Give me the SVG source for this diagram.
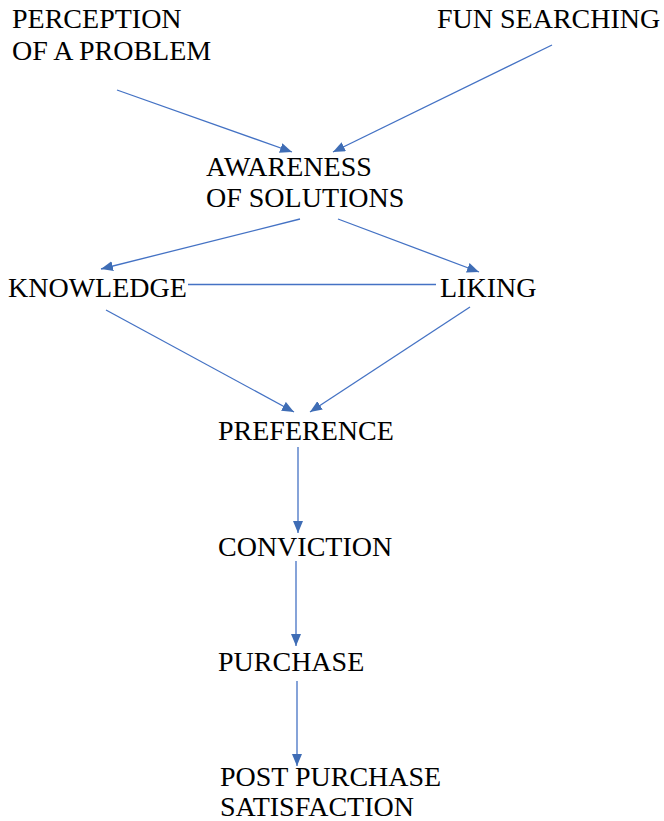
<svg xmlns="http://www.w3.org/2000/svg" width="664" height="821" viewBox="0 0 664 821">
<defs>
<marker id="ah" viewBox="0 0 12 10" refX="12" refY="5" markerWidth="12" markerHeight="10" markerUnits="userSpaceOnUse" orient="auto">
<path d="M0,0 L12,5 L0,10 Z" fill="#3F6DB5"/>
</marker>
</defs>
<rect width="664" height="821" fill="#fff"/>
<g id="connectors" stroke="#4472C4" stroke-width="1.3" fill="none">
<line marker-end="url(#ah)" x1="117" y1="90" x2="292" y2="152"/>
<line marker-end="url(#ah)" x1="552" y1="45" x2="333" y2="152"/>
<line marker-end="url(#ah)" x1="300" y1="219" x2="101" y2="269"/>
<line marker-end="url(#ah)" x1="338" y1="219" x2="479" y2="272"/>
<line x1="188" y1="284.5" x2="436" y2="284.5"/>
<line marker-end="url(#ah)" x1="106" y1="310" x2="294" y2="412"/>
<line marker-end="url(#ah)" x1="470" y1="307" x2="310" y2="412"/>
<line marker-end="url(#ah)" x1="298" y1="447" x2="298" y2="533"/>
<line marker-end="url(#ah)" x1="296" y1="561" x2="296" y2="646"/>
<line marker-end="url(#ah)" x1="297" y1="681" x2="297" y2="766"/>
</g>
<g id="nodes" fill="#000">
<g id="n-perception"><text x="12" y="28" font-family="Liberation Serif" font-size="28">PERCEPTION</text><text x="12" y="60" font-family="Liberation Serif" font-size="28">OF A PROBLEM</text></g>
<g id="n-fun"><text x="437" y="28" font-family="Liberation Serif" font-size="28">FUN SEARCHING</text></g>
<g id="n-awareness"><text x="206" y="176" font-family="Liberation Serif" font-size="28">AWARENESS</text><text x="206" y="207" font-family="Liberation Serif" font-size="28">OF SOLUTIONS</text></g>
<g id="n-knowledge"><text x="8" y="297" font-family="Liberation Serif" font-size="28">KNOWLEDGE</text></g>
<g id="n-liking"><text x="440" y="297" font-family="Liberation Serif" font-size="28">LIKING</text></g>
<g id="n-preference"><text x="218" y="440" font-family="Liberation Serif" font-size="28">PREFERENCE</text></g>
<g id="n-conviction"><text x="218" y="556" font-family="Liberation Serif" font-size="28">CONVICTION</text></g>
<g id="n-purchase"><text x="218" y="671" font-family="Liberation Serif" font-size="28">PURCHASE</text></g>
<g id="n-post"><text x="220" y="786" font-family="Liberation Serif" font-size="28">POST PURCHASE</text><text x="220" y="816" font-family="Liberation Serif" font-size="28">SATISFACTION</text></g>
</g>
</svg>
